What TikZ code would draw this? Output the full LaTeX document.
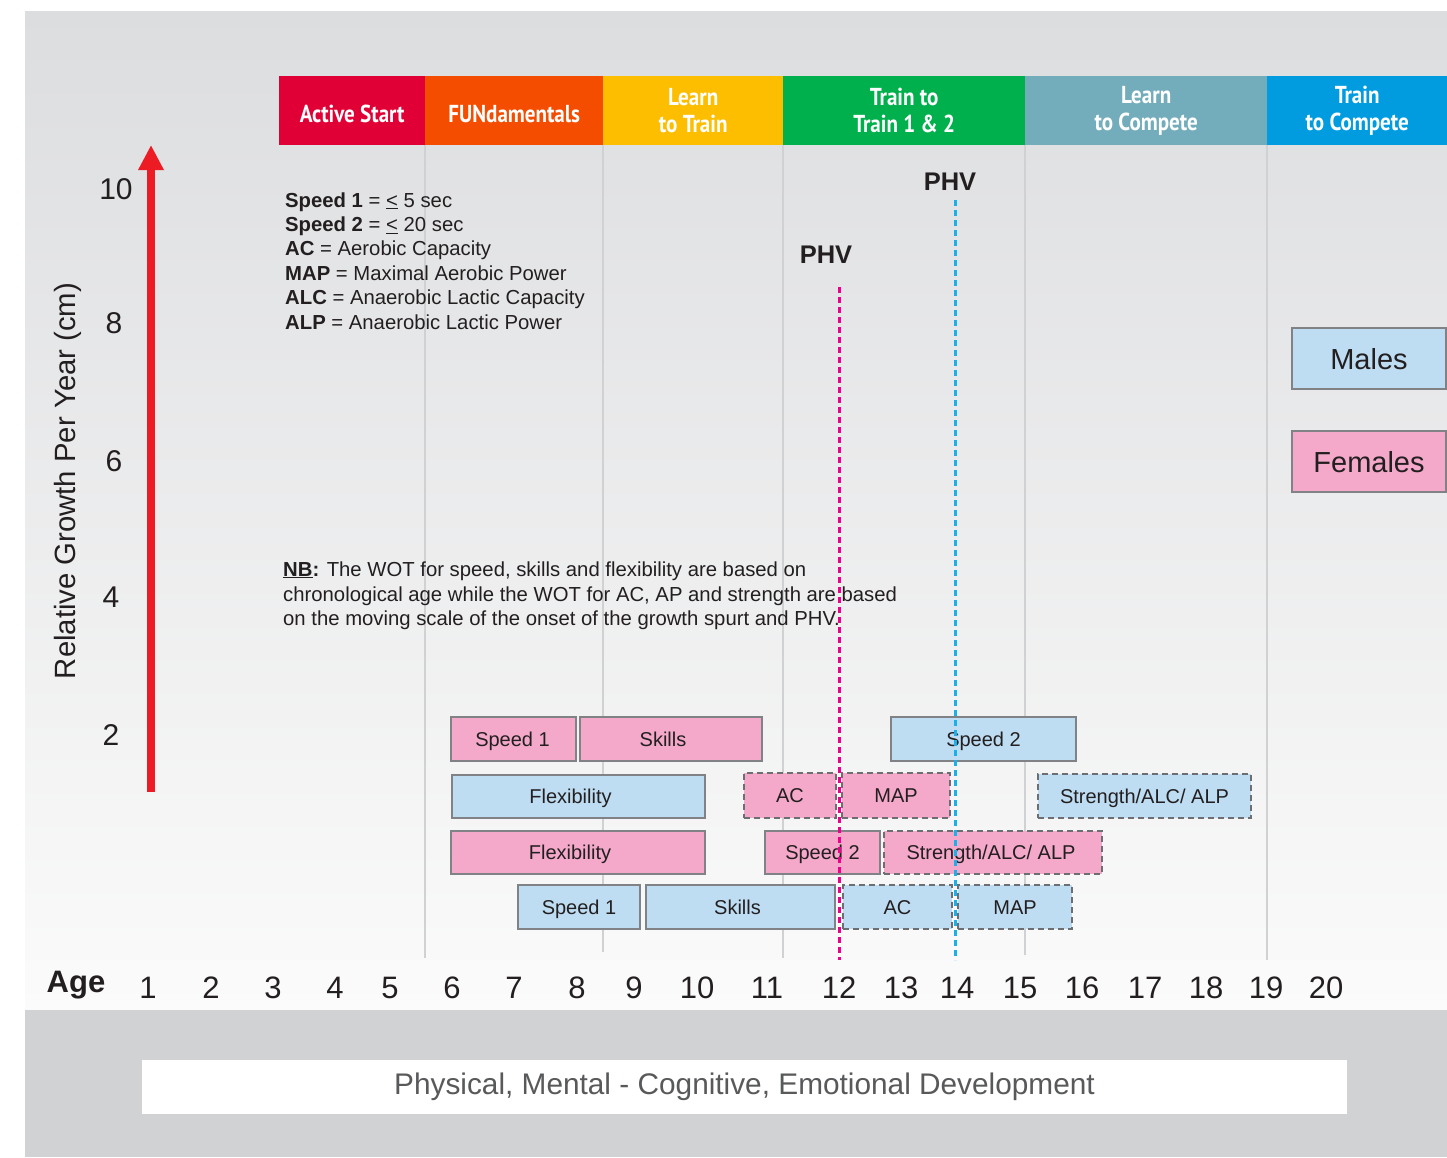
\documentclass[tikz,border=0pt]{standalone}
\usepackage{fontspec}
\setmainfont{Liberation Sans}
\newfontfamily\hdfont[FakeStretch=0.86]{PT Sans}
\usetikzlibrary{arrows.meta}
\definecolor{bgtop}{HTML}{DCDDDF}
\definecolor{bgbot}{HTML}{FBFBFB}
\definecolor{band}{HTML}{D1D2D4}
\definecolor{cAS}{HTML}{E10035}
\definecolor{cFUN}{HTML}{F54D00}
\definecolor{cLT}{HTML}{FDBE00}
\definecolor{cTT}{HTML}{00B04C}
\definecolor{cLC}{HTML}{73ADBB}
\definecolor{cTC}{HTML}{009CDF}
\definecolor{mblue}{HTML}{BEDDF2}
\definecolor{fpink}{HTML}{F4A9CA}
\definecolor{boxedge}{HTML}{808285}
\definecolor{dashedge}{HTML}{6D6E71}
\definecolor{txt}{HTML}{231F20}
\definecolor{phvpink}{HTML}{EC008C}
\definecolor{phvblue}{HTML}{1BB0EC}
\definecolor{axred}{HTML}{ED1C24}
\definecolor{gridc}{HTML}{D0D1D3}
\definecolor{bottxt}{HTML}{58595B}
\tikzset{
  stage/.style={rectangle, anchor=north west, inner sep=0pt, minimum height=69pt, text=white,
    font=\hdfont\bfseries\fontsize{24.5}{27}\selectfont, align=center},
  gbox/.style={draw=boxedge, line width=1.5pt, inner sep=0pt, text=txt, text height=14.5pt, text depth=0pt,
    font=\fontsize{20}{24}\selectfont},
  mb/.style={gbox, fill=mblue},
  fp/.style={gbox, fill=fpink},
  dbox/.style={draw=dashedge, line width=2pt, dash pattern=on 6pt off 4pt},
  legend/.style={anchor=base west, inner sep=0pt, text=txt, font=\fontsize{20.3}{24}\selectfont},
  tick/.style={inner sep=0pt, text=txt, font=\fontsize{30}{34}\selectfont},
  agenum/.style={inner sep=0pt, text=txt, font=\fontsize{31}{34}\selectfont},
  phvlab/.style={inner sep=0pt, text=txt, font=\fontsize{25.5}{28}\selectfont\bfseries},
  phvline/.style={line width=3pt, dash pattern=on 6pt off 4pt},
  gridline/.style={draw=gridc, line width=1.2pt},
}
\begin{document}
\begin{tikzpicture}[x=1pt,y=-1pt]
\useasboundingbox (0,0) rectangle (1447,1157);
\fill[white] (0,0) rectangle (1447,1157);
\shade[top color=bgtop, bottom color=bgbot] (25,11) rectangle (1447,1010);
\fill[band] (25,1010) rectangle (1447,1157);

% stage header
\node[stage, fill=cAS, minimum width=146pt, text depth=0pt, text height=23pt] (as) at (279,76) {Active Start};
\node[stage, fill=cFUN, minimum width=178pt, text depth=0pt, text height=23pt] (fun) at (425,76) {FUNdamentals};
\node[stage, fill=cLT, minimum width=180pt] (lt) at (603,76) {Learn\\to Train};
\node[stage, fill=cTT, minimum width=242pt] (tt) at (783,76) {Train to\\Train 1 \& 2};
\node[stage, fill=cLC, minimum width=242pt] (lc) at (1025,76) {Learn\\to Compete};
\node[stage, fill=cTC, minimum width=180pt] (tc) at (1267,76) {Train\\to Compete};

% grid lines
\coordinate (g1) at (425,958);
\coordinate (g2) at (603,952);
\coordinate (g3) at (783,958);
\coordinate (g4) at (1025,955);
\coordinate (g5) at (1267,960);
\draw[gridline] (fun.south west) -- (g1);
\draw[gridline] (lt.south west) -- (g2);
\draw[gridline] (tt.south west) -- (g3);
\draw[gridline] (lc.south west) -- (g4);
\draw[gridline] (tc.south west) -- (g5);

% red axis arrow
\coordinate (ax0) at (151,792);
\coordinate (ax1) at (151,145);
\draw[axred, line width=8pt, -{Triangle[width=24pt,length=25pt]}] (ax0) -- (ax1);

% y label and ticks
\node[rotate=90, inner sep=0pt, text=txt, font=\fontsize{29.3}{32}\selectfont] (ylab) at (68,481) {Relative Growth Per Year (cm)};
\node[tick] (t10) at (116,189) {10};
\node[tick] (t8) at (114,323) {8};
\node[tick] (t6) at (114,461) {6};
\node[tick] (t4) at (111,597) {4};
\node[tick] (t2) at (111,735) {2};

% legend
\node[legend] (leg1) at (285,207) {\textbf{Speed 1} = \underline{<} 5 sec};
\node[legend] (leg2) at (285,231.4) {\textbf{Speed 2} = \underline{<} 20 sec};
\node[legend] (leg3) at (285,255.8) {\textbf{AC} = Aerobic Capacity};
\node[legend] (leg4) at (285,280.2) {\textbf{MAP} = Maximal Aerobic Power};
\node[legend] (leg5) at (285,304.6) {\textbf{ALC} = Anaerobic Lactic Capacity};
\node[legend] (leg6) at (285,329) {\textbf{ALP} = Anaerobic Lactic Power};

% NB text
\node[legend] (nb1) at (283,576) {\textbf{\underline{NB}:} The WOT for speed, skills and flexibility are based on};
\node[legend] (nb2) at (283,601) {chronological age while the WOT for AC, AP and strength are based};
\node[legend] (nb3) at (283,625) {on the moving scale of the onset of the growth spurt and PHV.};

% PHV
\node[phvlab] (phvm) at (950,182) {PHV};
\node[phvlab] (phvf) at (826,255) {PHV};
\coordinate (pm0) at (955,200);
\coordinate (pm1) at (955,960);
\coordinate (pf0) at (839,287);
\coordinate (pf1) at (839,960);

% legend boxes
\node[mb, minimum width=154pt, minimum height=61pt, text height=21pt, font=\fontsize{29}{32}\selectfont] (males) at (1369,358.5) {Males};
\node[fp, minimum width=154pt, minimum height=61pt, text height=21pt, font=\fontsize{29}{32}\selectfont] (females) at (1369,461.5) {Females};

% row 1
\node[fp, minimum width=125pt, minimum height=44pt] (fs1) at (513.5,739) {\hspace*{-2pt}Speed 1};
\node[fp, minimum width=182pt, minimum height=44pt] (fsk) at (671,739) {Skills\hspace*{16pt}};
\node[mb, minimum width=185pt, minimum height=44pt] (ms2) at (983.5,739) {Speed 2};
% row 2
\node[mb, minimum width=253pt, minimum height=43pt] (mfl) at (578.5,796.5) {Flexibility\hspace*{16pt}};
\node[fp, dbox, minimum width=92pt, minimum height=45pt] (fac) at (790,795) {AC};
\node[fp, dbox, minimum width=108pt, minimum height=45pt] (fmap) at (896,795) {MAP};
\node[mb, dbox, minimum width=213pt, minimum height=44pt] (mstr) at (1144.5,796) {Strength/ALC/ ALP};
% row 3
\node[fp, minimum width=254pt, minimum height=43pt] (ffl) at (578,852.5) {Flexibility\hspace*{16pt}};
\node[fp, minimum width=115pt, minimum height=43pt] (fs2) at (822.5,852.5) {Speed 2};
\node[fp, dbox, minimum width=218pt, minimum height=43pt] (fstr) at (993,852.5) {\hspace*{-4pt}Strength/ALC/ ALP};
% row 4
\node[mb, minimum width=122pt, minimum height=44pt] (ms1) at (579,907) {Speed 1};
\node[mb, minimum width=189pt, minimum height=44pt] (msk) at (740.5,907) {Skills\hspace*{6pt}};
\node[mb, dbox, minimum width=109pt, minimum height=44pt] (mac) at (897.5,907) {AC};
\node[mb, dbox, minimum width=114pt, minimum height=44pt] (mmap) at (1015,907) {MAP};

% PHV lines (on top)
\draw[phvline, draw=phvblue] (pm0) -- (pm1);
\draw[phvline, draw=phvpink] (pf0) -- (pf1);

% age row
\node[inner sep=0pt, text=txt, font=\fontsize{31}{34}\selectfont\bfseries] (age) at (76,985) {Age};
\foreach \n/\xx in {1/148,2/211,3/273,4/335,5/390,6/452,7/514,8/577,9/634,10/697,11/767,12/839,13/901,14/957,15/1020,16/1082,17/1145,18/1206,19/1266,20/1326}
  \node[agenum] (a\n) at (\xx,988) {\n};

% development box
\node[fill=white, inner sep=0pt, minimum width=1205pt, minimum height=54pt, text=bottxt, font=\fontsize{29.8}{32}\selectfont] (dev) at (744.5,1087) {Physical, Mental - Cognitive, Emotional Development};
\end{tikzpicture}
\end{document}
